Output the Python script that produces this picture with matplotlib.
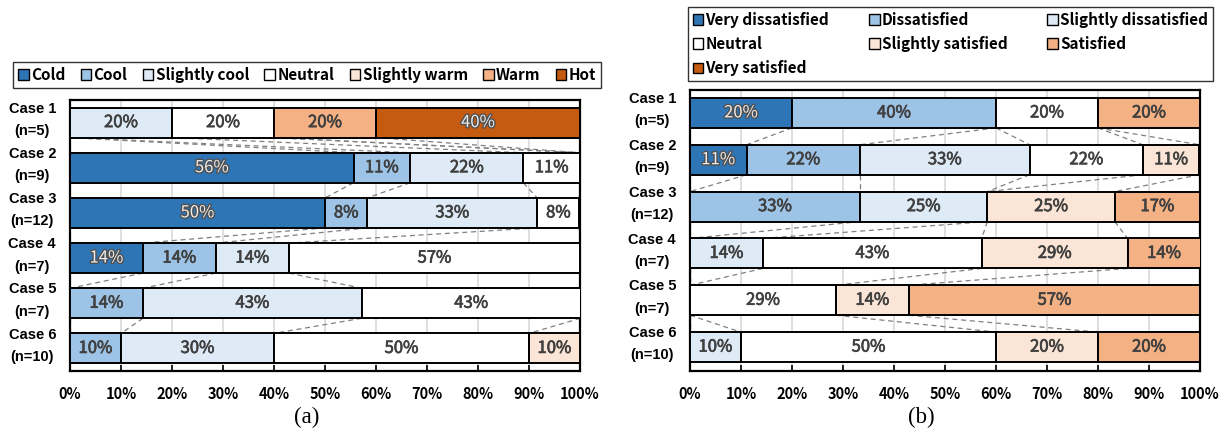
import numpy as np
import matplotlib.pyplot as plt
import matplotlib.transforms as mtransforms
import matplotlib.patheffects as pe
from matplotlib.patches import Patch


#######################################################################################
# DATA (percent of responses per case)
#######################################################################################
cases = ["Case 1", "Case 2", "Case 3", "Case 4", "Case 5", "Case 6"]
nResp = [5, 9, 12, 7, 7, 10]

# (a) thermal sensation
tsvNames = ["Cold", "Cool", "Slightly cool", "Neutral", "Slightly warm", "Warm", "Hot"]
tsvCold = [0, 55.6, 50.0, 14.3, 0, 0]
tsvCool = [0, 11.1, 8.3, 14.3, 14.3, 10.0]
tsvSlCool = [20.0, 22.2, 33.3, 14.3, 42.9, 30.0]
tsvNeutral = [20.0, 11.1, 8.3, 57.1, 42.9, 50.0]
tsvSlWarm = [0, 0, 0, 0, 0, 10.0]
tsvWarm = [20.0, 0, 0, 0, 0, 0]
tsvHot = [40.0, 0, 0, 0, 0, 0]

# (b) thermal satisfaction
satNames = ["Very dissatisfied", "Dissatisfied", "Slightly dissatisfied", "Neutral",
            "Slightly satisfied", "Satisfied", "Very satisfied"]
satVeryDis = [20.0, 11.1, 0, 0, 0, 0]
satDis = [40.0, 22.2, 33.3, 0, 0, 0]
satSlDis = [0, 33.3, 25.0, 14.3, 0, 10.0]
satNeutral = [20.0, 22.2, 0, 42.9, 28.6, 50.0]
satSlSat = [0, 11.1, 25.0, 28.6, 14.3, 20.0]
satSat = [20.0, 0, 16.7, 14.3, 57.1, 20.0]
satVerySat = [0, 0, 0, 0, 0, 0]

# Excel style 7 point palette, blue -> orange
colours = ["#2E75B6", "#9DC3E6", "#DEEBF7", "#FFFFFF", "#FBE5D6", "#F4B183", "#C55A11"]
darkFill = [True, False, False, False, False, False, True]

W, H = 1228, 430
fig = plt.figure(figsize=(W/100, H/100), dpi=100)
jp = ["Noto Sans CJK JP", "DejaVu Sans"]
caseFont = ["Liberation Sans", "Noto Sans CJK JP", "DejaVu Sans"]


def stackedChart(ax, series, barH):
    """
    STACKEDCHART draws a 100% stacked horizontal bar chart in the Excel
    style, with dashed series lines joining the segment ends of
    neighbouring bars and a percent label in each segment.
    """
    data = np.array(series, dtype=float)        # series x cases
    cum = np.cumsum(data, axis=0)
    left = cum - data
    y = np.arange(len(cases))

    # Series lines between consecutive bars
    for k in range(data.shape[0]):
        for i in range(len(cases)-1):
            ax.plot([cum[k, i], cum[k, i+1]], [y[i]+barH/2, y[i+1]-barH/2],
                    color="#808080", lw=0.9, ls=(0, (4, 3)), zorder=2)

    # Bars and labels
    for k in range(data.shape[0]):
        for i in range(len(cases)):
            v = data[k, i]
            if v <= 0:
                continue
            ax.barh(y[i], v, left=left[k, i], height=barH, color=colours[k],
                    edgecolor="black", lw=1.4, zorder=3)
            xc = left[k, i] + v/2
            if darkFill[k]:
                ax.text(xc, y[i], "{0:.0f}%".format(v), ha="center", va="center",
                        family=jp, fontsize=12, color="#EDEDED", zorder=4,
                        path_effects=[pe.withStroke(linewidth=2.0, foreground="#505050")])
            else:
                # thin stroke of the same colour gives the medium weight of the original
                ax.text(xc, y[i], "{0:.0f}%".format(v), ha="center", va="center",
                        family=jp, fontsize=12, color="#404040", zorder=4,
                        path_effects=[pe.withStroke(linewidth=0.5, foreground="#404040")])

    # Axes
    ax.set_xlim(0, 100)
    ax.set_ylim(len(cases)-0.5, -0.5)
    ax.set_xticks(np.arange(0, 101, 10))
    ax.set_xticklabels(["{0}%".format(t) for t in range(0, 101, 10)],
                       family=jp, fontsize=10.5, fontweight="bold")
    ax.xaxis.grid(True, color="#D9D9D9", lw=1.2, zorder=0)
    ax.set_axisbelow(True)
    ax.tick_params(axis="x", direction="in", length=4, width=1.2, pad=11)
    ax.set_yticks(y)
    ax.set_yticklabels(["{0}\n(n={1})".format(c, n) for c, n in zip(cases, nResp)],
                       family=caseFont, fontsize=10.5, fontweight="bold",
                       linespacing=1.75, multialignment="center")
    ax.tick_params(axis="y", length=0, pad=10)
    shift = mtransforms.ScaledTranslation(0, 6/72, fig.dpi_scale_trans)
    for lab in ax.get_yticklabels():
        lab.set_transform(lab.get_transform() + shift)
    for s in ax.spines.values():
        s.set_color("black")
        s.set_linewidth(1.6)


#######################################################################################
# (a) Thermal sensation
#######################################################################################
axA = fig.add_axes([70/W, 1-371/H, 510/W, 271/H])
stackedChart(axA, [tsvCold, tsvCool, tsvSlCool, tsvNeutral, tsvSlWarm, tsvWarm, tsvHot], 0.664)

handles = [Patch(facecolor=c, edgecolor="black", lw=1.0) for c in colours]
legA = fig.legend(handles, tsvNames, loc="center", bbox_to_anchor=(307/W, 1-75/H), ncol=7,
                  prop={"family": jp, "size": 11, "weight": "bold"}, frameon=True, fancybox=False,
                  handlelength=0.7, handleheight=0.7, handletextpad=0.15, columnspacing=1.0,
                  borderpad=0.3, borderaxespad=0)
legA.get_frame().set_edgecolor("black")
legA.get_frame().set_linewidth(1.0)

fig.text(307/W, 1-417/H, "(a)", ha="center", va="center", family="Liberation Serif", fontsize=16.5)

#######################################################################################
# (b) Thermal satisfaction
#######################################################################################
axB = fig.add_axes([690/W, 1-370.5/H, 510/W, 281/H])
stackedChart(axB, [satVeryDis, satDis, satSlDis, satNeutral, satSlSat, satSat, satVerySat], 0.64)

# matplotlib fills columns first, so reorder to get the row-wise Excel layout
order = [0, 3, 6, 1, 4, 2, 5]
legB = fig.legend([handles[i] for i in order], [satNames[i] for i in order], loc="upper left",
                  bbox_to_anchor=(688/W, 1-7/H, 525/W, 0), mode="expand", ncol=3,
                  prop={"family": jp, "size": 11, "weight": "bold"}, frameon=True, fancybox=False,
                  handlelength=0.7, handleheight=0.7, handletextpad=0.15, labelspacing=0.55,
                  borderpad=0.3, borderaxespad=0)
legB.get_frame().set_edgecolor("black")
legB.get_frame().set_linewidth(1.0)

fig.text(921/W, 1-417/H, "(b)", ha="center", va="center", family="Liberation Serif", fontsize=16.5)

plt.savefig("out.png", dpi=100)
